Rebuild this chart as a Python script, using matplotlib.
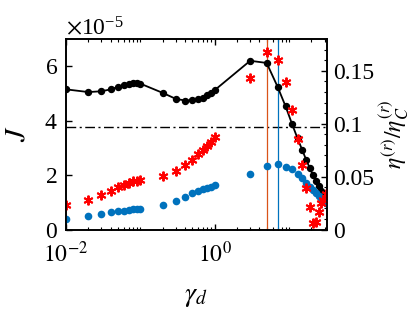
import numpy as np
import matplotlib
matplotlib.use("Agg")
import matplotlib.pyplot as plt
from matplotlib.ticker import LogLocator, MultipleLocator, ScalarFormatter, NullFormatter, FixedLocator

plt.rcParams['font.family'] = ['Liberation Serif', 'DejaVu Serif']
plt.rcParams['mathtext.fontset'] = 'stix'
plt.rcParams['axes.unicode_minus'] = False

# ---- data ----
gamma_d = [0.01, 0.02, 0.03, 0.04, 0.05, 0.06, 0.07, 0.08, 0.09, 0.1,
           0.2, 0.3, 0.4, 0.5, 0.6, 0.7, 0.8, 0.9, 1.0,
           3, 5, 7, 9, 11, 13, 15, 17, 19, 21, 23, 25, 27, 29, 31]

J_vals = [5.15, 5.05, 5.08, 5.15, 5.24, 5.31, 5.36, 5.38, 5.38, 5.36,
          5.02, 4.80, 4.74, 4.75, 4.78, 4.84, 4.95, 5.02, 5.12,
          6.20, 6.12, 5.25, 4.52, 3.87, 3.35, 2.93, 2.56, 2.26, 1.99,
          1.77, 1.59, 1.43, 1.28, 1.14]
J_scale = 1e-5

eta_blue = [0.0100, 0.0125, 0.0147, 0.0163, 0.0173, 0.0178, 0.0185, 0.0192, 0.0195, 0.0197,
            0.0235, 0.0273, 0.0308, 0.0343, 0.0362, 0.0381, 0.0394, 0.0406, 0.0416,
            0.0524, 0.0596, 0.0615, 0.0595, 0.0567, 0.0529, 0.0486, 0.0444, 0.0406,
            0.0372, 0.0343, 0.0318, 0.0296, 0.0273, 0.0254]

eta_red = [0.023, 0.0283, 0.033, 0.0368, 0.0397, 0.0422, 0.0441, 0.0454, 0.0463, 0.047,
           0.051, 0.0555, 0.0605, 0.0653, 0.071, 0.0748, 0.0792, 0.083, 0.0875,
           0.1435, 0.1677, 0.160, 0.1393, 0.1125, 0.0857, 0.0605, 0.039, 0.021,
           0.0065, 0.007, 0.017, 0.025, 0.028, 0.0334]

J_ref = 3.78
vline_orange = 5.1
vline_blue = 7.1

# ---- figure ----
fig = plt.figure(figsize=(4.15, 3.12), dpi=100)
ax = fig.add_axes([0.159, 0.2644, 0.628, 0.6106])
ax2 = ax.twinx()

g = np.array(gamma_d)
ax.plot(g, np.array(J_vals) * J_scale, '-', color='black', lw=1.3,
        marker='o', markersize=4.3, zorder=5)
ax.axhline(J_ref * J_scale, color='black', ls=(0, (7, 2.5, 1.5, 2.5)), lw=1.0)
ax.axvline(vline_orange, color='#D95319', lw=0.9)
ax.axvline(vline_blue, color='#0072BD', lw=0.9)

ax2.plot(g, eta_blue, 'o', color='#0072BD', markersize=5.5, markeredgewidth=0)
ax2.plot(g, eta_red, ls='none', marker=(6, 2, 0), color='#FF0000',
         markersize=7, markeredgewidth=1.4)

ax.set_xscale('log')
ax.set_xlim(0.01, 32)
ax.set_ylim(0, 7e-5)
ax2.set_ylim(0, 0.18)

ax.xaxis.set_major_locator(FixedLocator([0.01, 1]))
ax.xaxis.set_minor_locator(LogLocator(base=10, subs=np.arange(1, 10), numticks=20))
ax.xaxis.set_minor_formatter(NullFormatter())
ax.set_xticklabels([r'$10^{-2}$', r'$10^{0}$'])

ax.yaxis.set_major_locator(MultipleLocator(2e-5))
fmt = ScalarFormatter(useMathText=True)
fmt.set_powerlimits((0, 0))
ax.yaxis.set_major_formatter(fmt)

ax2.yaxis.set_major_locator(FixedLocator([0, 0.05, 0.1, 0.15]))
ax2.set_yticklabels(['0', '0.05', '0.1', '0.15'])
ax2.yaxis.set_minor_locator(MultipleLocator(0.01))

for a in (ax, ax2):
    a.tick_params(which='both', direction='in', labelsize=17)
    a.tick_params(which='major', length=4, width=1)
    a.tick_params(which='minor', length=2, width=0.8)
    for s in a.spines.values():
        s.set_linewidth(1.2)
ax.tick_params(axis='x', which='both', top=True, pad=9)
ax.tick_params(axis='y', which='both', right=False, pad=6)
ax2.tick_params(axis='y', pad=5)
ax.yaxis.get_offset_text().set_fontsize(17)

ax.set_ylabel(r'$J$', fontsize=21, labelpad=10)
ax.set_xlabel(r'$\gamma_d$', fontsize=20, labelpad=12)
ax2.set_ylabel(r'$\eta^{(r)}/\eta_C^{(r)}$', fontsize=17, labelpad=2)

fig.savefig('out.png', dpi=100)
